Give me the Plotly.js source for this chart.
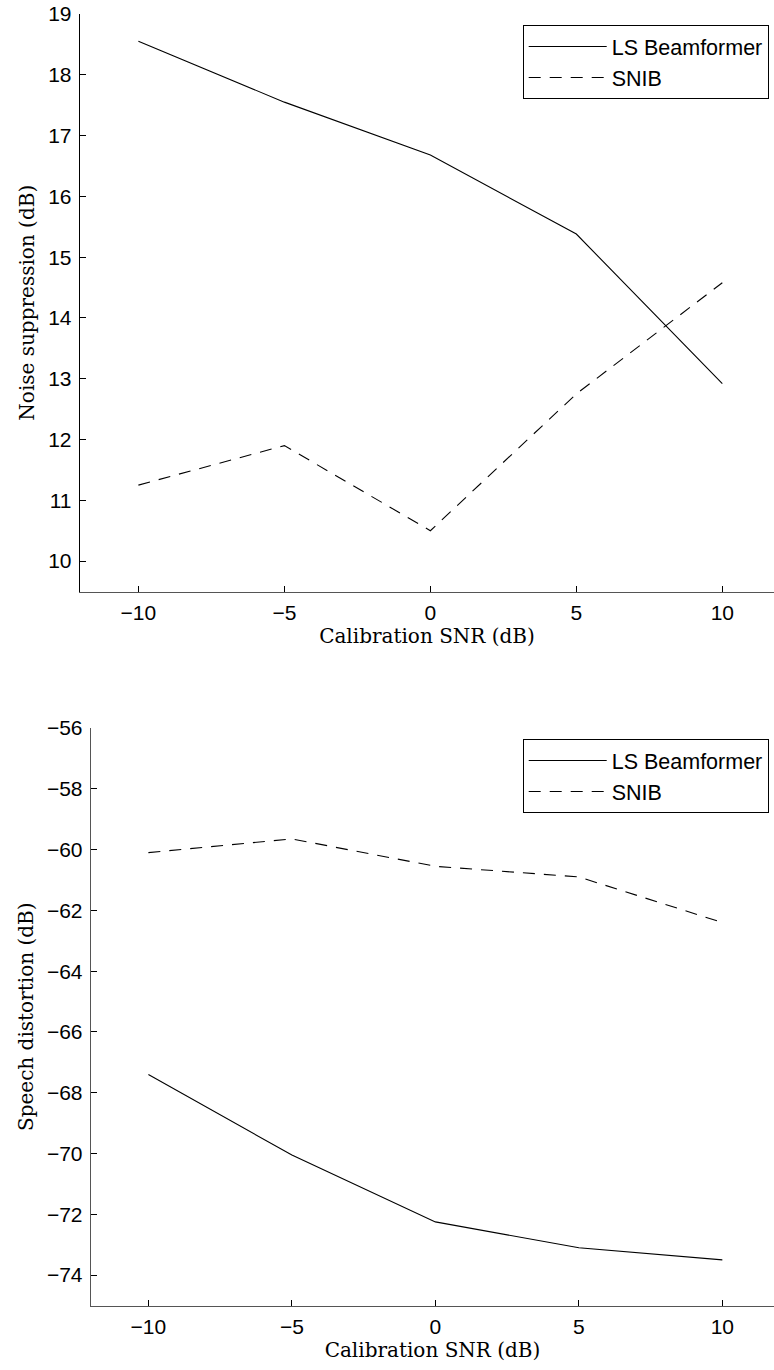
<!DOCTYPE html>
<html>
<head>
<meta charset="utf-8">
<script src="https://cdn.plot.ly/plotly-3.0.1.min.js"></script>
<style>html,body{margin:0;padding:0;background:#fff;}#chart{width:774px;height:1370px;}</style>
</head>
<body>
<div id="chart"></div>
<script>
// Data
var snr = [-10, -5, 0, 5, 10];
var noiseLS = [18.55, 17.55, 16.68, 15.38, 12.92];
var noiseSNIB = [11.25, 11.9, 10.5, 12.75, 14.58];
var distLS = [-67.4, -70.05, -72.25, -73.1, -73.5];
var distSNIB = [-60.1, -59.65, -60.55, -60.9, -62.4];
var xTicks = [-10, -5, 0, 5, 10];
var xTickText = ['\u221210', '\u22125', '0', '5', '10'];
var yTicksTop = [10, 11, 12, 13, 14, 15, 16, 17, 18, 19];
var yTicksBottom = [-74, -72, -70, -68, -66, -64, -62, -60, -58, -56];
var yTextBottom = yTicksBottom.map(function (v) { return '\u2212' + Math.abs(v); });
var seriesNames = ['LS Beamformer', 'SNIB'];

var W = 774, H = 1370;
var tickFont = {family: 'Liberation Sans, Arial, sans-serif', size: 21, color: '#000'};
var titleFont = {family: 'DejaVu Serif, serif', size: 20, color: '#000'};

var solid = {color: '#000', width: 1.1, dash: 'solid'};
var dashed = {color: '#000', width: 1.1, dash: '12px,9px'};

var traces = [
  {x: snr, y: noiseLS, name: seriesNames[0], mode: 'lines', line: solid, xaxis: 'x', yaxis: 'y', legend: 'legend'},
  {x: snr, y: noiseSNIB, name: seriesNames[1], mode: 'lines', line: dashed, xaxis: 'x', yaxis: 'y', legend: 'legend'},
  {x: snr, y: distLS, name: seriesNames[0], mode: 'lines', line: solid, xaxis: 'x2', yaxis: 'y2', legend: 'legend2'},
  {x: snr, y: distSNIB, name: seriesNames[1], mode: 'lines', line: dashed, xaxis: 'x2', yaxis: 'y2', legend: 'legend2'}
];

function xAx(domLeft, range, anchor) {
  return {
    domain: [domLeft / W, 1], range: range, anchor: anchor,
    tickvals: xTicks, ticktext: xTickText, ticks: 'inside', ticklen: 6, tickcolor: '#000',
    showline: true, linecolor: '#555', linewidth: 1.3, showgrid: false, zeroline: false,
    tickfont: tickFont, ticklabelstandoff: 2,
    title: {text: 'Calibration SNR (dB)', font: titleFont, standoff: 4}
  };
}
function yAx(top, bottom, range, vals, text, title, anchor, lc) {
  return {
    domain: [1 - bottom / H, 1 - top / H], range: range, anchor: anchor,
    tickvals: vals, ticktext: text, ticks: 'inside', ticklen: 6, tickcolor: '#000',
    showline: true, linecolor: lc, linewidth: 1.3, showgrid: false, zeroline: false,
    tickfont: tickFont, ticklabelstandoff: 3,
    title: {text: title, font: titleFont, standoff: 8}
  };
}

var legendBase = {
  xanchor: 'right', yanchor: 'top', bgcolor: '#fff', bordercolor: '#000', borderwidth: 1,
  font: {family: 'Liberation Sans, Arial, sans-serif', size: 21.5, color: '#000'},
  itemwidth: 78, tracegroupgap: 0
};

var layout = {
  width: W, height: H,
  margin: {l: 0, r: 0, t: 0, b: 0},
  paper_bgcolor: '#fff', plot_bgcolor: '#fff',
  showlegend: true,
  xaxis: xAx(80, [-12, 11.77], 'y'),
  yaxis: yAx(14, 591.5, [9.5, 19], yTicksTop, yTicksTop.map(String), 'Noise suppression (dB)', 'x', '#000'),
  xaxis2: xAx(91, [-12, 11.8], 'y2'),
  yaxis2: yAx(728, 1305.5, [-75, -56], yTicksBottom, yTextBottom, 'Speech distortion (dB)', 'x2', '#555'),
  legend: Object.assign({}, legendBase, {x: 768.7 / W, y: 1 - 25 / H}),
  legend2: Object.assign({}, legendBase, {x: 768.7 / W, y: 1 - 739 / H})
};

Plotly.newPlot('chart', traces, layout, {displayModeBar: false, staticPlot: true});
</script>
</body>
</html>
